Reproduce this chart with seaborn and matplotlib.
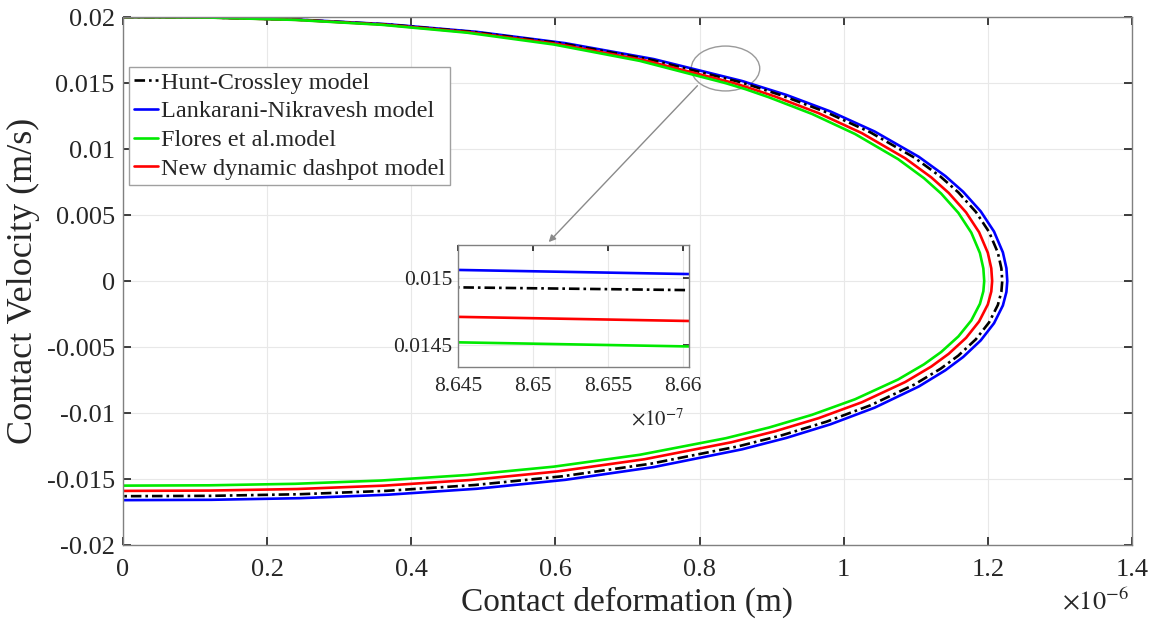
import matplotlib
matplotlib.use("Agg")
import matplotlib.pyplot as plt
from matplotlib.patches import Ellipse
import seaborn as sns

# === Data (deformation in 1e-6 m, velocity in m/s), loop: approach branch then restitution branch ===
hc_def = [0, 0.122, 0.244, 0.366, 0.488, 0.610, 0.732, 0.854, 0.8645, 0.8660, 0.915, 0.976, 1.037, 1.098,
          1.1346, 1.159, 1.1834, 1.2017, 1.2139, 1.2188, 1.220,
          1.2188, 1.2139, 1.2017, 1.1834, 1.159, 1.1346, 1.098, 1.037, 0.976, 0.915, 0.854, 0.732,
          0.610, 0.488, 0.366, 0.244, 0.122, 0]
hc_vel = [0.02, 0.019961, 0.019792, 0.019439, 0.018855, 0.017988, 0.016770, 0.015099, 0.01493, 0.01491,
          0.014041, 0.012785, 0.011265, 0.009352, 0.007900, 0.006719, 0.005237, 0.003721, 0.002154,
          0.000965, 0.0,
          -0.000815, -0.001818, -0.003139, -0.004414, -0.005654, -0.006639, -0.007844, -0.009418,
          -0.010659, -0.011673, -0.01252, -0.013842, -0.014789, -0.015453, -0.015893, -0.016153,
          -0.016274, -0.0163]

ln_def = [0, 0.1227, 0.2454, 0.3681, 0.4908, 0.6135, 0.7362, 0.8589, 0.8645, 0.8660, 0.9203, 0.9816,
          1.0430, 1.1043, 1.1411, 1.1657, 1.1902, 1.2086, 1.2209, 1.2258, 1.227,
          1.2258, 1.2209, 1.2086, 1.1902, 1.1657, 1.1411, 1.1043, 1.0430, 0.9816, 0.9203, 0.8589,
          0.7362, 0.6135, 0.4908, 0.3681, 0.2454, 0.1227, 0]
ln_vel = [0.02, 0.019963, 0.019798, 0.019452, 0.018877, 0.018021, 0.016815, 0.015155, 0.01506, 0.01503,
          0.014101, 0.012847, 0.011326, 0.009409, 0.007952, 0.006765, 0.005275, 0.003749, 0.002171,
          0.000972, 0.0,
          -0.00083, -0.001852, -0.003198, -0.004495, -0.005758, -0.006761, -0.007988, -0.009593,
          -0.010855, -0.011888, -0.012751, -0.014097, -0.015062, -0.015738, -0.016186, -0.016451,
          -0.016574, -0.0166]

fl_def = [0, 0.1195, 0.239, 0.3585, 0.478, 0.5975, 0.717, 0.8365, 0.8645, 0.8660, 0.89625, 0.956,
          1.01575, 1.0755, 1.11135, 1.13525, 1.15915, 1.17708, 1.18903, 1.1938, 1.195,
          1.1938, 1.18903, 1.17708, 1.15915, 1.13525, 1.11135, 1.0755, 1.01575, 0.956, 0.89625,
          0.8365, 0.717, 0.5975, 0.478, 0.3585, 0.239, 0.1195, 0]
fl_vel = [0.02, 0.019958, 0.019781, 0.019413, 0.018809, 0.017920, 0.016678, 0.014986, 0.01452, 0.01449,
          0.013920, 0.012659, 0.011139, 0.009235, 0.007794, 0.006625, 0.005161, 0.003665, 0.002121,
          0.00095, 0.0,
          -0.000775, -0.001729, -0.002986, -0.004197, -0.005378, -0.006314, -0.007459, -0.008957,
          -0.010136, -0.0111, -0.011907, -0.013163, -0.014064, -0.014695, -0.015113, -0.015361,
          -0.015476, -0.0155]

nd_def = [0, 0.1206, 0.2412, 0.3618, 0.4824, 0.603, 0.7236, 0.8442, 0.8645, 0.8660, 0.9045, 0.9648,
          1.0251, 1.0854, 1.1216, 1.1457, 1.1698, 1.1879, 1.2000, 1.2048, 1.206,
          1.2048, 1.2000, 1.1879, 1.1698, 1.1457, 1.1216, 1.0854, 1.0251, 0.9648, 0.9045, 0.8442,
          0.7236, 0.603, 0.4824, 0.3618, 0.2412, 0.1206, 0]
nd_vel = [0.02, 0.019960, 0.019787, 0.019427, 0.018834, 0.017956, 0.016727, 0.015047, 0.01471, 0.01468,
          0.013984, 0.012726, 0.011206, 0.009297, 0.007850, 0.006675, 0.005202, 0.003695, 0.002139,
          0.000958, 0.0,
          -0.000795, -0.001774, -0.003062, -0.004305, -0.005515, -0.006476, -0.007651, -0.009187,
          -0.010396, -0.011386, -0.012213, -0.013501, -0.014426, -0.015073, -0.015502, -0.015757,
          -0.015874, -0.0159]

labels = ["Hunt-Crossley model", "Lankarani-Nikravesh model", "Flores et al.model",
          "New dynamic dashpot model"]
colors = ["black", "#0000ff", "#00ea00", "#ff0000"]
curves = [(hc_def, hc_vel), (ln_def, ln_vel), (fl_def, fl_vel), (nd_def, nd_vel)]
styles = [(0, (4, 1.5, 1, 1.5)), "-", "-", "-"]

# === Style ===
sns.set_theme(style="whitegrid")
plt.rcParams["font.family"] = ["Liberation Serif", "DejaVu Serif"]
plt.rcParams["mathtext.fontset"] = "stix"
txt_col = "#262626"

fig = plt.figure(figsize=(11.52, 6.19), dpi=100)
ax = fig.add_axes([0.1068, 0.1195, 0.8758, 0.8530])

draw_order = [1, 0, 3, 2]
handles = {}
for i in draw_order:
    d, v = curves[i]
    sns.lineplot(x=d, y=v, ax=ax, sort=False, estimator=None, color=colors[i],
                 linestyle=styles[i], linewidth=1.9, label=labels[i], legend=False)
    handles[i] = ax.lines[-1]

ax.set_xlim(0, 1.4)
ax.set_ylim(-0.02, 0.02)
ax.set_xticks([0, 0.2, 0.4, 0.6, 0.8, 1.0, 1.2, 1.4])
ax.set_xticklabels(["0", "0.2", "0.4", "0.6", "0.8", "1", "1.2", "1.4"])
ax.set_yticks([-0.02, -0.015, -0.01, -0.005, 0, 0.005, 0.01, 0.015, 0.02])
ax.set_yticklabels(["-0.02", "-0.015", "-0.01", "-0.005", "0", "0.005", "0.01", "0.015", "0.02"])
ax.tick_params(axis="both", labelsize=19, colors=txt_col, direction="in", length=6,
               top=True, right=True, bottom=True, left=True)
ax.tick_params(axis="x", pad=10)
ax.tick_params(axis="y", pad=6)
ax.grid(True, color="#e8e8e8", linewidth=0.8)
for s in ax.spines.values():
    s.set_color("#808080")
    s.set_linewidth(1.0)
ax.set_xlabel("Contact deformation (m)", fontsize=24, color=txt_col, labelpad=4)
ax.set_ylabel("Contact Velocity (m/s)", fontsize=26, color=txt_col)
ax.yaxis.set_label_coords(-0.0825, 0.5)
fig.text(0.951, 0.029, r"$\times10^{-6}$", fontsize=19, color=txt_col, ha="center", va="center")

leg = ax.legend([handles[i] for i in range(4)], labels, loc="upper left",
                bbox_to_anchor=(0.006, 0.906), borderaxespad=0, fontsize=17.5, frameon=True,
                fancybox=False, handlelength=1.0, handletextpad=0.1, labelspacing=0.28,
                borderpad=0.2)
leg.get_frame().set_edgecolor("#a0a0a0")
leg.get_frame().set_linewidth(1.0)
leg.get_frame().set_alpha(1)

# zoom marker and arrow
ax.add_patch(Ellipse((0.836, 0.0161), width=0.095, height=0.0034, fill=False,
                     edgecolor="#9a9a9a", linewidth=1.0))
ax.annotate("", xy=(0.588, 0.0028), xytext=(0.7997, 0.01495),
            arrowprops=dict(arrowstyle="-|>", color="#8a8a8a", lw=1.0, mutation_scale=10))

# === Inset ===
axin = fig.add_axes([0.3976, 0.4071, 0.2005, 0.1971])
for i in draw_order:
    d, v = curves[i]
    sns.lineplot(x=d, y=v, ax=axin, sort=False, estimator=None, color=colors[i],
                 linestyle=styles[i], linewidth=1.9, legend=False)
axin.set_xlim(0.8645, 0.86604)
axin.set_ylim(0.014336, 0.015246)
axin.set_xticks([0.8645, 0.865, 0.8655, 0.866])
axin.set_xticklabels(["8.645", "8.65", "8.655", "8.66"])
axin.set_yticks([0.0145, 0.015])
axin.set_yticklabels(["0.0145", "0.015"])
axin.tick_params(axis="both", labelsize=15.5, colors=txt_col, direction="in", length=4,
                 top=True, right=True)
axin.tick_params(axis="x", pad=7)
axin.tick_params(axis="y", pad=4)
axin.grid(True, color="#e8e8e8", linewidth=0.8)
axin.set_facecolor("white")
for s in axin.spines.values():
    s.set_color("#808080")
    s.set_linewidth(1.0)
fig.text(0.571, 1 - 420 / 619, r"$\times10^{-7}$", fontsize=15, color=txt_col,
         ha="center", va="center")

fig.savefig("out.png", dpi=100)
